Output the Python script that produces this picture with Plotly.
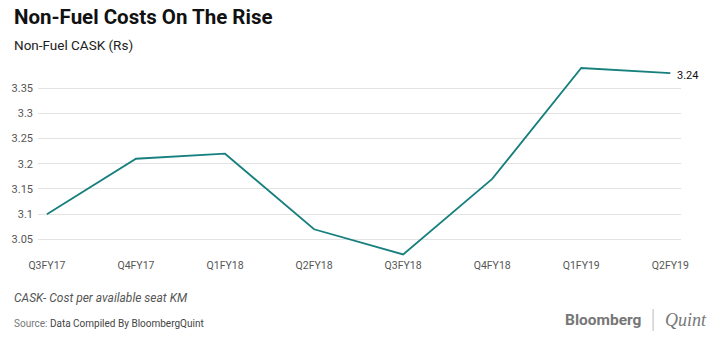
import plotly.graph_objects as go

quarters = ["Q3FY17", "Q4FY17", "Q1FY18", "Q2FY18", "Q3FY18", "Q4FY18", "Q1FY19", "Q2FY19"]
cask = [3.10, 3.21, 3.22, 3.07, 3.02, 3.17, 3.39, 3.38]
end_label = "3.24"
y_ticks = [3.05, 3.10, 3.15, 3.20, 3.25, 3.30, 3.35]
y_tick_text = ["3.05", "3.1", "3.15", "3.2", "3.25", "3.3", "3.35"]

teal = "#17807e"
fig = go.Figure()
fig.add_trace(go.Scatter(
    x=list(range(len(quarters))), y=cask, mode="lines",
    line=dict(color=teal, width=1.8), hoverinfo="skip", showlegend=False,
))
fig.add_annotation(x=len(quarters) - 1, y=cask[-1], text=end_label, showarrow=False,
                   xanchor="left", xshift=5, yshift=-2,
                   font=dict(family="Roboto", size=11, color="#111"))

fig.update_layout(
    width=720, height=337, paper_bgcolor="white", plot_bgcolor="white",
    margin=dict(l=36, r=39, t=63, b=80),
    font=dict(family="Roboto"),
    xaxis=dict(range=[-0.1, 7.12], tickvals=list(range(len(quarters))), ticktext=quarters,
               showgrid=False, zeroline=False, showline=False, ticks="",
               tickfont=dict(family="Roboto", size=10.5, color="#555")),
    yaxis=dict(range=[3.015, 3.40], tickvals=y_ticks, ticktext=y_tick_text,
               showgrid=True, gridcolor="#e3e3e3", gridwidth=1, zeroline=False,
               showline=False, ticks="", ticklabelstandoff=4,
               tickfont=dict(family="Roboto", size=11, color="#555")),
)

def pix(x, y, text, size, color, xanchor="left", family="Roboto"):
    fig.add_annotation(xref="paper", yref="paper",
                       x=(x - 36) / 645, y=(257 - y) / 194,
                       xanchor=xanchor, yanchor="middle", text=text, showarrow=False,
                       font=dict(family=family, size=size, color=color))

pix(10, 17, "<b>Non-Fuel Costs On The Rise</b>", 20.5, "#111")
pix(10, 45, "Non-Fuel CASK (Rs)", 13.5, "#222")
pix(10, 298, "<i>CASK- Cost per available seat KM</i>", 12, "#555")
pix(10, 323, "<span style='color:#777'>Source:</span> Data Compiled By BloombergQuint", 10, "#444")
pix(643, 320, "<b>Bloomberg</b>", 15.5, "#777", xanchor="right")
pix(709, 320, "<i>Quint</i>", 18, "#777", xanchor="right", family="Liberation Serif")
fig.add_shape(type="line", xref="paper", yref="paper",
              x0=(653 - 36) / 645, x1=(653 - 36) / 645,
              y0=(257 - 331) / 194, y1=(257 - 309) / 194,
              line=dict(color="#bbb", width=1))

fig.write_html("out.html")
